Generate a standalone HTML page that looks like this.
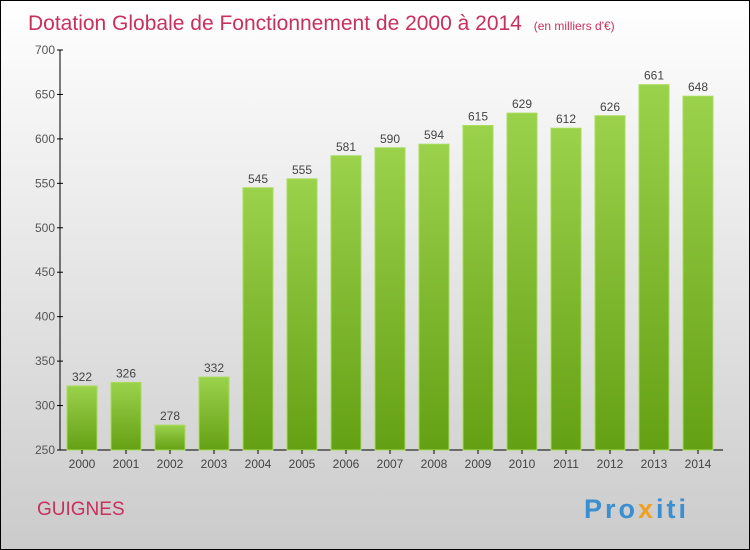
<!DOCTYPE html>
<html><head><meta charset="utf-8"><style>
body{margin:0}
#c{width:748px;height:548px;border:1px solid #000;background:linear-gradient(#fff,#cbcbcb);position:relative;font-family:"Liberation Sans",sans-serif;overflow:hidden}
</style></head><body>
<div id="c">
<svg id="s" width="748" height="548" style="position:absolute;left:0;top:0">
<defs><linearGradient id="g" x1="0" y1="0" x2="0" y2="1"><stop offset="0" stop-color="#9bd24c"/><stop offset="1" stop-color="#64a014"/></linearGradient></defs>
<text x="27" y="29" font-size="21" fill="#c8305e">Dotation Globale de Fonctionnement de 2000 à 2014 <tspan font-size="12" dx="6">(en milliers d'€)</tspan></text>
<text x="36" y="514" font-size="19" fill="#c8305e">GUIGNES</text>
<text x="583" y="517" font-size="27" font-weight="bold" letter-spacing="3"><tspan fill="#3a8fd0">Pro</tspan><tspan fill="#f0a020">x</tspan><tspan fill="#3a8fd0">iti</tspan></text>
<g id="plot"></g>
</svg>
</div>
<script>
const years=["2000","2001","2002","2003","2004","2005","2006","2007","2008","2009","2010","2011","2012","2013","2014"];
const values=[322,326,278,332,545,555,581,590,594,615,629,612,626,661,648];
const yTicks=[250,300,350,400,450,500,550,600,650,700];
const ns="http://www.w3.org/2000/svg";
const g=document.getElementById('plot');
const y=v=>449-(v-250)*400/450;
const x=i=>81+44*i;
function mk(t,a){const e=document.createElementNS(ns,t);for(const k in a)e.setAttribute(k,a[k]);g.appendChild(e);return e;}
let e=mk('line',{x1:59,y1:49,x2:59,y2:449,stroke:'#000'});


e=mk('line',{x1:59,y1:449,x2:722,y2:449,stroke:'#000'});


yTicks.forEach(v=>{
 mk('line',{x1:56,y1:y(v),x2:62,y2:y(v),stroke:'#000'});
 const t=mk('text',{x:54,y:y(v)+4,'font-size':12,'text-anchor':'end',fill:'#555'});t.textContent=v;
 
 
});
years.forEach((yr,i)=>{
 const v=values[i];
 const r=mk('rect',{x:x(i)-15,y:y(v),width:30,height:449-y(v),fill:'url(#g)',stroke:'#a6dc5a','stroke-width':1});
 
 
 mk('line',{x1:x(i),y1:449,x2:x(i),y2:453,stroke:'#000'});
 const t=mk('text',{x:x(i),y:467,'font-size':12,'text-anchor':'middle',fill:'#444'});t.textContent=yr;
 
 
 const l=mk('text',{x:x(i),y:y(v)-5,'font-size':12,'text-anchor':'middle',fill:'#444'});l.textContent=v;
 
 
});
</script>
</body></html>
